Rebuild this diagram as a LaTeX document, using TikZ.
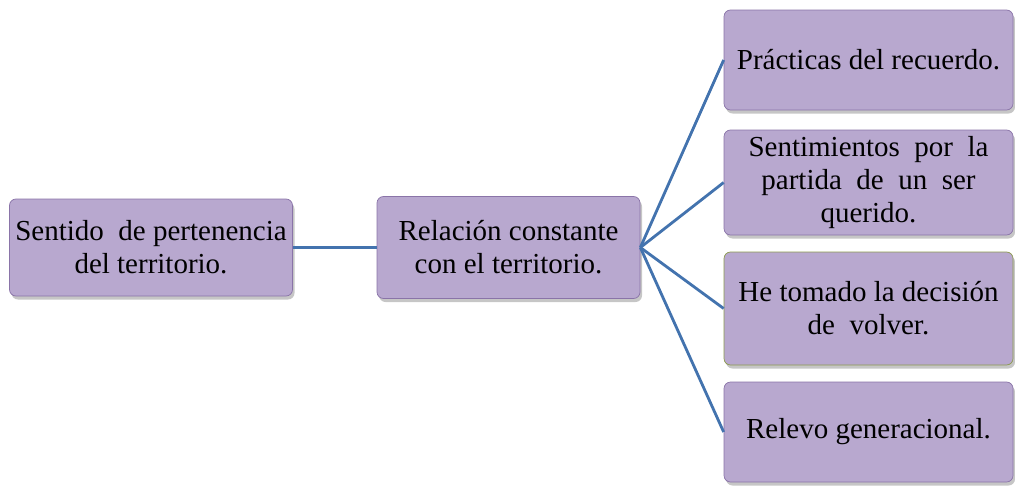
\documentclass[tikz,border=0pt]{standalone}
\usepackage{fontspec}
\setmainfont{Liberation Serif}
\usetikzlibrary{shadows}
\definecolor{lavanda}{HTML}{B8A8CF}
\definecolor{borde}{HTML}{8A74A8}
\definecolor{oliva}{HTML}{8C9A4E}
\definecolor{enlace}{HTML}{4373AE}

\begin{document}
\begin{tikzpicture}[
  caja/.style={rectangle,rounded corners=0.13cm,fill=lavanda,draw=borde,thin,
    drop shadow={shadow xshift=0.04cm,shadow yshift=-0.07cm,opacity=0.45},
    align=center,inner sep=0pt,font=\fontsize{16.5}{18.8}\selectfont},
  enlace/.style={draw=enlace,line width=1.6pt}]
\useasboundingbox (0,0) rectangle (20.3,-9.7);

\node[caja,minimum width=5.66cm,minimum height=1.94cm] (sentido) at (3.02,-4.95) {Sentido~ de pertenencia\\del territorio.};
\node[caja,minimum width=5.26cm,minimum height=2.04cm] (relacion) at (10.17,-4.95) {Relación constante\\con el territorio.};

\node[caja,minimum width=5.78cm,minimum height=2.0cm] (practicas) at (17.37,-1.2) {Prácticas del recuerdo.};
\node[caja,minimum width=5.78cm,minimum height=2.1cm] (sentimientos) at (17.37,-3.65) {Sentimientos~ por~ la\\partida~ de~ un~ ser\\querido.};
\node[caja,draw=oliva,minimum width=5.78cm,minimum height=2.26cm] (decision) at (17.37,-6.17) {He tomado la decisión\\de~ volver.};
\node[caja,minimum width=5.78cm,minimum height=2.0cm] (relevo) at (17.37,-8.64) {Relevo generacional.};

\draw[enlace] (sentido.east) -- (relacion.west);
\draw[enlace] (relacion.east) -- (practicas.west);
\draw[enlace] (relacion.east) -- (sentimientos.west);
\draw[enlace] (relacion.east) -- (decision.west);
\draw[enlace] (relacion.east) -- (relevo.west);

\end{tikzpicture}
\end{document}
